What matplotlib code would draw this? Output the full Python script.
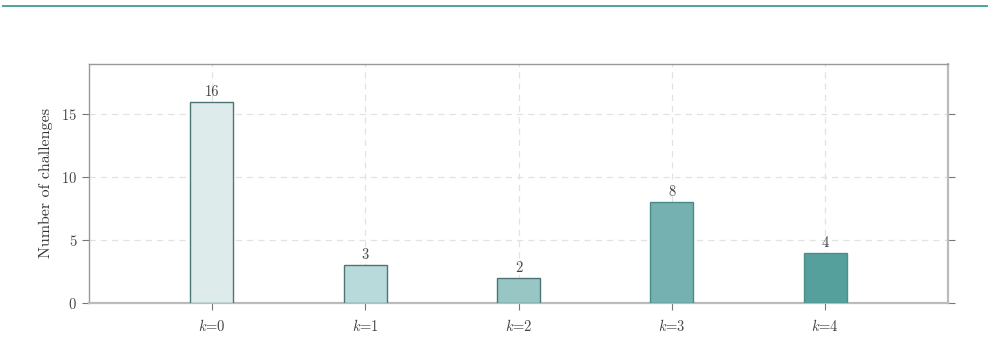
import matplotlib
matplotlib.use("Agg")
import matplotlib.pyplot as plt
from matplotlib.lines import Line2D

# data
labels = ["$k$=0", "$k$=1", "$k$=2", "$k$=3", "$k$=4"]
counts = [16, 3, 2, 8, 4]
fills = ["#ddeceb", "#b9dada", "#97c6c5", "#74b1b0", "#559f9d"]
edges = ["#4b7674", "#4b7674", "#4b7674", "#4a8a88", "#4a8f8d"]

plt.rcParams["font.family"] = "cmr10"
plt.rcParams["mathtext.fontset"] = "cm"
plt.rcParams["axes.formatter.use_mathtext"] = True

txt = "#444444"
fig = plt.figure(figsize=(9.92, 3.52), dpi=100)
ax = fig.add_axes([89/992, 1 - 303/352, (948-89)/992, (303-64)/352])

x = range(len(counts))
ax.bar(x, counts, width=0.28, color=fills, edgecolor=edges, linewidth=1.0, zorder=3)
for i, v in enumerate(counts):
    ax.text(i, v + 0.25, str(v), ha="center", va="bottom", fontsize=10.5, color=txt, zorder=4)

ax.set_xlim(-0.8, 4.8)
ax.set_ylim(0, 19)
ax.set_xticks(list(x))
ax.set_xticklabels(labels, fontsize=10.5, color=txt)
ax.set_yticks([0, 5, 10, 15])
ax.tick_params(axis="y", labelsize=10.5, labelcolor=txt, color="#777777", length=5,
               right=True, direction="out")
ax.tick_params(axis="x", color="#777777", length=5, direction="out", pad=6)
ax.set_ylabel("Number of challenges", fontsize=11.5, color="#333333", labelpad=6)

ax.grid(True, linestyle=(0, (5, 4)), color="#e2e2e2", linewidth=0.9, zorder=0)
ax.set_axisbelow(True)

for s in ["left", "top"]:
    ax.spines[s].set_color("#999999")
    ax.spines[s].set_linewidth(1.0)
for s in ["right", "bottom"]:
    ax.spines[s].set_color("#bbbbbb")
    ax.spines[s].set_linewidth(1.6)

# teal rule at the top of the page
fig.add_artist(Line2D([3/992, 987/992], [1 - 6/352, 1 - 6/352], color="#4aa3a0",
                      linewidth=1.4, transform=fig.transFigure))

fig.savefig("out.png", dpi=100)
